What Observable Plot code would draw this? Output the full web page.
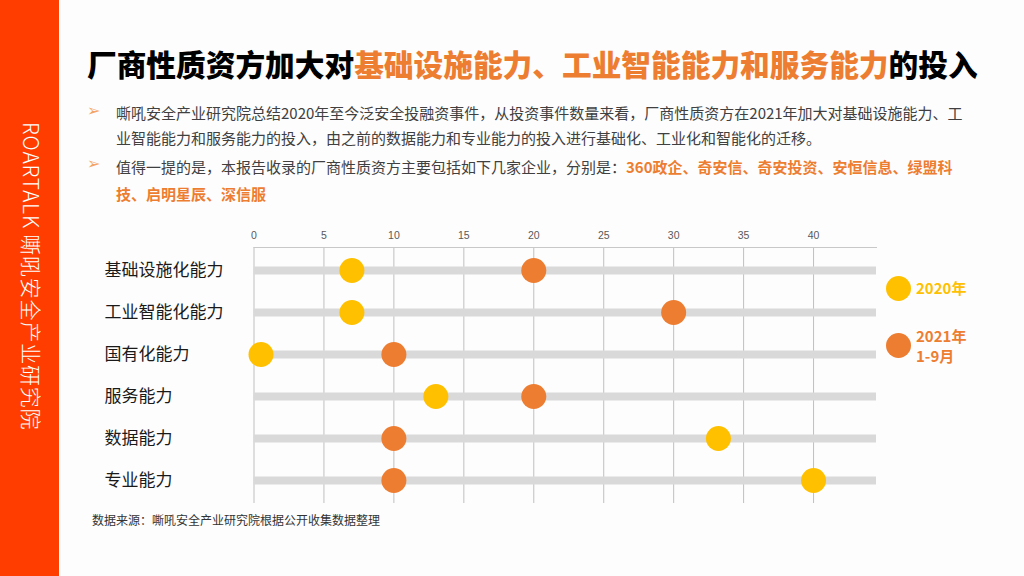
<!DOCTYPE html>
<html>
<head>
<meta charset="utf-8">
<script src="https://cdn.jsdelivr.net/npm/d3@7"></script>
<script src="https://cdn.jsdelivr.net/npm/@observablehq/plot@0.6"></script>
<style>
  html, body { margin: 0; padding: 0; }
  body { width: 1024px; height: 576px; position: relative; overflow: hidden; background: #fdfdfd;
         font-family: "Noto Sans CJK SC", "Noto Sans", sans-serif; }
  .sidebar { position: absolute; left: 0; top: 0; width: 59px; height: 576px; background: #ff3d00; }
  .sidetext { position: absolute; left: 17px; top: 122px; writing-mode: vertical-rl; text-orientation: sideways;
              color: #fff; font-size: 21px; font-weight: 300; letter-spacing: 0.8px; white-space: nowrap; }
  .title { position: absolute; left: 87px; top: 44px; font-size: 29.7px; font-weight: 900; color: #000; white-space: nowrap; line-height: 40px; }
  .orange { color: #ed7d31; }
  .para { position: absolute; left: 116px; font-size: 15px; color: #404040; white-space: nowrap; }
  .bullet { position: absolute; left: 87px; font-size: 16px; color: #f4a468; font-family: "DejaVu Sans", sans-serif; }
  .hl { color: #ed7d31; font-weight: 700; }
  .caption { position: absolute; left: 92px; top: 511px; font-size: 12px; color: #333; white-space: nowrap; }
  #chart { position: absolute; left: 90px; top: 220px; }
  .leg-dot { position: absolute; width: 25px; height: 25px; border-radius: 50%; }
  .leg-text { position: absolute; font-size: 15px; font-weight: 700; line-height: 20px; white-space: nowrap; }
</style>
</head>
<body>
<div class="sidebar"></div>
<div class="sidetext">ROARTALK 嘶吼安全产业研究院</div>
<div class="title">厂商性质资方加大对<span class="orange">基础设施能力、工业智能能力和服务能力</span>的投入</div>

<div class="bullet" style="top:101px;">➢</div>
<div class="para" style="top:100px; line-height:25px;">嘶吼安全产业研究院总结2020年至今泛安全投融资事件，从投资事件数量来看，厂商性质资方在2021年加大对基础设施能力、工<br>业智能能力和服务能力的投入，由之前的数据能力和专业能力的投入进行基础化、工业化和智能化的迁移。</div>
<div class="bullet" style="top:154px;">➢</div>
<div class="para" style="top:152.5px; line-height:27px;">值得一提的是，本报告收录的厂商性质资方主要包括如下几家企业，分别是：<span class="hl">360政企、奇安信、奇安投资、安恒信息、绿盟科</span><br><span class="hl">技、启明星辰、深信服</span></div>

<div id="chart"></div>

<div class="leg-dot" style="left:886px; top:275.5px; background:#ffc000;"></div>
<div class="leg-text" style="left:916px; top:278px; color:#ffc000;">2020年</div>
<div class="leg-dot" style="left:886px; top:332.5px; background:#ed7d31;"></div>
<div class="leg-text" style="left:916px; top:326px; color:#ed7d31;">2021年<br>1-9月</div>

<div class="caption">数据来源：嘶吼安全产业研究院根据公开收集数据整理</div>

<script>
const categories = ["基础设施化能力", "工业智能化能力", "国有化能力", "服务能力", "数据能力", "专业能力"];
const values2020 = [7, 7, 0.5, 13, 33.2, 40];
const values2021 = [20, 30, 10, 20, 10, 10];
const xTicks = [0, 5, 10, 15, 20, 25, 30, 35, 40];
const xMax = 44.5;

const data2020 = categories.map((c, i) => ({category: c, value: values2020[i]}));
const data2021 = categories.map((c, i) => ({category: c, value: values2021[i]}));

const chart = Plot.plot({
  width: 800,
  height: 300,
  marginLeft: 163.5,
  marginRight: 14,
  marginTop: 27,
  marginBottom: 17,
  style: {background: "transparent", fontFamily: "'Liberation Sans', 'DejaVu Sans', sans-serif", fontSize: "10.5px", color: "#595959", overflow: "visible"},
  x: {domain: [0, xMax], axis: "top", ticks: xTicks, tickSize: 0, tickPadding: 9, label: null},
  y: {type: "point", domain: categories, axis: null, padding: 0.5},
  marks: [
    Plot.gridX(xTicks, {stroke: "#bfbfbf", strokeOpacity: 1}),
    Plot.frame({anchor: "top", stroke: "#c8c8c8", strokeOpacity: 1}),
    Plot.ruleY(categories, {y: d => d, x1: 0, x2: xMax, stroke: "#d9d9d9", strokeWidth: 8}),
    Plot.dot(data2021, {x: "value", y: "category", r: 12.5, fill: "#ed7d31"}),
    Plot.dot(data2020, {x: "value", y: "category", r: 12.5, fill: "#ffc000"}),
    Plot.text(categories, {y: d => d, text: d => d, frameAnchor: "left", dx: -149.5, textAnchor: "start",
      fontSize: 17, fill: "#1a1a1a", fontFamily: "'Noto Sans CJK SC', sans-serif"})
  ]
});
document.getElementById("chart").appendChild(chart);
</script>
</body>
</html>
